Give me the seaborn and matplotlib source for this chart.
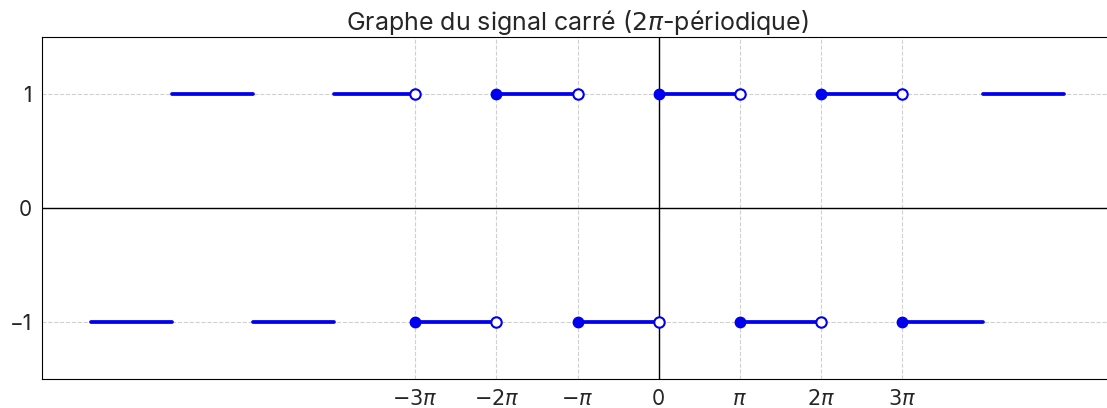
import numpy as np
import matplotlib
matplotlib.use("Agg")
import matplotlib.pyplot as plt
import seaborn as sns

# segments of the 2pi-periodic square wave, in units of pi
seg_start = [-7, -6, -5, -4, -3, -2, -1, 0, 1, 2, 3, 4]
seg_level = [-1, 1, -1, 1, -1, 1, -1, 1, -1, 1, -1, 1]
mark_range = (-3, 3)  # endpoints shown only in this window (units of pi)

tick_pos = [-3, -2, -1, 0, 1, 2, 3]
tick_labels = [r'$-3\pi$', r'$-2\pi$', r'$-\pi$', '0', r'$\pi$', r'$2\pi$', r'$3\pi$']
ytick_pos = [-1, 0, 1]

sns.set_style("white")
plt.rcParams['font.family'] = ['Inter', 'DejaVu Sans']

fig = plt.figure(figsize=(11.07, 4.08), dpi=100)
ax = fig.add_axes([0.038, 0.071, 0.9675, 0.838])

color = '#0000ee'
for s, lvl in zip(seg_start, seg_level):
    x0, x1 = s * np.pi, (s + 1) * np.pi
    ax.plot([x0, x1], [lvl, lvl], color=color, lw=2.7, zorder=3)
    if mark_range[0] <= s <= mark_range[1]:
        ax.plot(x0, lvl, 'o', color=color, ms=7.5, zorder=4)
    if mark_range[0] <= s + 1 <= mark_range[1]:
        ax.plot(x1, lvl, 'o', mfc='white', mec=color, mew=1.5, ms=7.5, zorder=4)

ax.axhline(0, color='black', lw=1)
ax.axvline(0, color='black', lw=1)

ax.set_xticks([t * np.pi for t in tick_pos])
ax.set_xticklabels(tick_labels, fontsize=15)
ax.set_yticks(ytick_pos)
ax.set_yticklabels([str(v).replace('-', '\u2212') for v in ytick_pos], fontsize=15)
ax.set_ylim(-1.5, 1.5)
ax.grid(True, ls='--', color='#d0d0d0', lw=0.8)
ax.tick_params(axis='both', length=4, color='black', direction='out')
for sp in ax.spines.values():
    sp.set_color('black')
ax.spines['right'].set_visible(False)

ax.set_title('Graphe du signal carré ($2\\pi$-périodique)', fontsize=18, pad=5)

plt.savefig('out.png', dpi=100)
plt.close()
